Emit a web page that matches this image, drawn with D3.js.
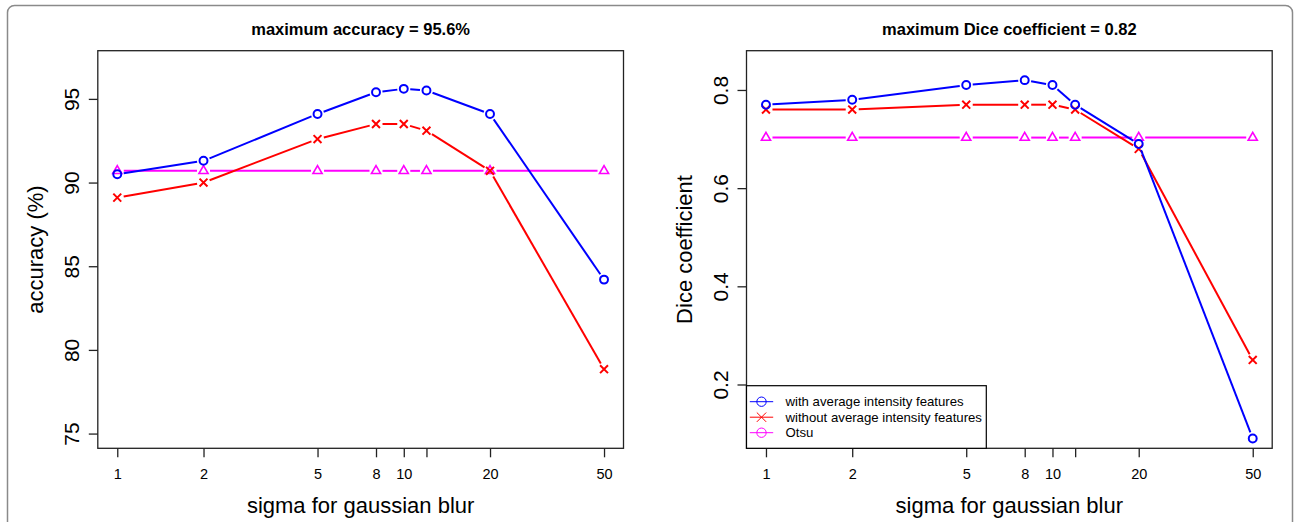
<!DOCTYPE html>
<html>
<head>
<meta charset="utf-8">
<script src="https://cdn.jsdelivr.net/npm/d3@7"></script>
<style>
  html, body { margin: 0; padding: 0; background: #fff; }
  svg { display: block; font-family: "Liberation Sans", Arial, Helvetica, sans-serif; }
</style>
</head>
<body>
<div id="chart"></div>
<script>
// sigma values (x axis, log scale)
const sigma = [1, 2, 5, 8, 10, 12, 20, 50];
const xTickLabels = ["1", "2", "5", "8", "10", "", "20", "50"];

// left panel: accuracy (%)
const accWith = [90.5, 91.3, 94.1, 95.4, 95.6, 95.5, 94.1, 84.2];
const accWithout = [89.1, 90.0, 92.6, 93.5, 93.5, 93.1, 90.7, 78.85];
const accOtsu = [90.7, 90.7, 90.7, 90.7, 90.7, 90.7, 90.7, 90.7];
const accTicks = [75, 80, 85, 90, 95];

// right panel: Dice coefficient
const diceWith = [0.77, 0.78, 0.81, 0.82, 0.81, 0.77, 0.69, 0.09];
const diceWithout = [0.76, 0.76, 0.77, 0.77, 0.77, 0.76, 0.68, 0.25];
const diceOtsu = [0.703, 0.703, 0.703, 0.703, 0.703, 0.703, 0.703, 0.703];
const diceTicks = [0.2, 0.4, 0.6, 0.8];

const legendLabels = ["with average intensity features", "without average intensity features", "Otsu"];

const W = 1294, H = 522;
const blue = "#0000ff", red = "#ff0000", magenta = "#ff00ff";

let svg = d3.select("#chart").append("svg")
	.attr("width", W)
	.attr("height", H);

// outer rounded frame
svg.append("rect")
	.attr("x", 7.5).attr("y", 5.5)
	.attr("width", 1285).attr("height", 600)
	.attr("rx", 7)
	.attr("fill", "none")
	.attr("stroke", "#8a8a8a")
	.attr("stroke-width", 1.5);

function panel(opt) {
	let top = 50.7, bottom = 448.3;
	let left = opt.left, right = opt.left + 525.7;
	let lx0 = Math.log10(sigma[0]), lx1 = Math.log10(sigma[sigma.length - 1]);
	let px = 0.04 * (lx1 - lx0);
	let x = d3.scaleLog([10 ** (lx0 - px), 10 ** (lx1 + px)], [left, right]);
	let py = 0.04 * (opt.ylim[1] - opt.ylim[0]);
	let y = d3.scaleLinear([opt.ylim[0] - py, opt.ylim[1] + py], [bottom, top]);

	let g = svg.append("g");

	// series, R type="b": segments broken around the points
	let gap = 6.5;
	opt.series.forEach(s => {
		let pts = sigma.map((v, i) => [x(v), y(s.values[i])]);
		let segs = [];
		for (let i = 0; i < pts.length - 1; i++) {
			let [x0, y0] = pts[i], [x1, y1] = pts[i + 1];
			let len = Math.hypot(x1 - x0, y1 - y0);
			if (len <= 2 * gap) continue;
			let ux = (x1 - x0) / len, uy = (y1 - y0) / len;
			segs.push([x0 + ux * gap, y0 + uy * gap, x1 - ux * gap, y1 - uy * gap]);
		}
		g.append("g")
			.attr("stroke", s.color)
			.attr("stroke-width", 2)
			.selectAll("line")
			.data(segs)
			.join("line")
			.attr("x1", d => d[0]).attr("y1", d => d[1])
			.attr("x2", d => d[2]).attr("y2", d => d[3]);
		let mk = g.append("g")
			.attr("stroke", s.color)
			.attr("fill", "none")
			.attr("stroke-width", s.shape === "tri" ? 1.6 : 2)
			.selectAll("g")
			.data(pts)
			.join("g")
			.attr("transform", d => `translate(${d[0]},${d[1]})`);
		drawMarker(mk, s.shape, 1.1);
	});

	// box
	g.append("rect")
		.attr("x", left).attr("y", top)
		.attr("width", right - left).attr("height", bottom - top)
		.attr("fill", "none")
		.attr("stroke", "#222")
		.attr("stroke-width", 1.3);

	// x axis
	g.append("g")
		.attr("transform", `translate(0,${bottom})`)
		.call(d3.axisBottom(x).tickValues(sigma).tickFormat((d, i) => xTickLabels[i]).tickSize(9).tickSizeOuter(0))
		.call(a => a.select(".domain").remove())
		.call(a => a.selectAll("line").attr("stroke", "#222").attr("stroke-width", 1.3))
		.call(a => a.selectAll("text")
			.attr("y", 31).attr("dy", 0)
			.attr("fill", "#000")
			.style("font-size", "14.5px")
			.style("font-family", "inherit"));

	// y axis
	g.append("g")
		.attr("transform", `translate(${left},0)`)
		.call(d3.axisLeft(y).tickValues(opt.yticks).tickFormat(opt.yfmt).tickSize(9).tickSizeOuter(0))
		.call(a => a.select(".domain").remove())
		.call(a => a.selectAll("line").attr("stroke", "#222").attr("stroke-width", 1.3))
		.call(a => a.selectAll("text")
			.attr("transform", "rotate(-90)")
			.attr("x", 0).attr("y", -19).attr("dy", 0)
			.attr("text-anchor", "middle")
			.attr("fill", "#000")
			.style("font-size", "21px")
			.style("font-family", "inherit"));

	// titles
	let cx = (left + right) / 2;
	g.append("text")
		.attr("x", cx).attr("y", 35)
		.attr("text-anchor", "middle")
		.attr("font-weight", "bold")
		.attr("font-size", 16.5)
		.text(opt.title);
	g.append("text")
		.attr("x", cx).attr("y", 513)
		.attr("text-anchor", "middle")
		.attr("font-size", 22)
		.text("sigma for gaussian blur");
	g.append("text")
		.attr("transform", `translate(${left - 55},${(top + bottom) / 2}) rotate(-90)`)
		.attr("text-anchor", "middle")
		.attr("font-size", 22)
		.text(opt.ylab);

	return {g, left, bottom};
}

function drawMarker(sel, shape, scale) {
	let k = scale;
	if (shape === "circle") {
		sel.append("circle").attr("r", 3.6 * k);
	} else if (shape === "cross") {
		sel.append("path").attr("d", `M${-3.6 * k},${-3.6 * k}L${3.6 * k},${3.6 * k}M${-3.6 * k},${3.6 * k}L${3.6 * k},${-3.6 * k}`);
	} else {
		sel.append("path").attr("d", d3.symbol(d3.symbolTriangle, 30 * k * k)());
	}
}

panel({
	left: 97.8,
	ylim: [75, 97],
	yticks: accTicks,
	yfmt: d3.format("d"),
	title: "maximum accuracy = 95.6%",
	ylab: "accuracy (%)",
	series: [
		{values: accOtsu, color: magenta, shape: "tri"},
		{values: accWithout, color: red, shape: "cross"},
		{values: accWith, color: blue, shape: "circle"}
	]
});

let p2 = panel({
	left: 746.5,
	ylim: [0.1, 0.85],
	yticks: diceTicks,
	yfmt: d3.format(".1f"),
	title: "maximum Dice coefficient = 0.82",
	ylab: "Dice coefficient",
	series: [
		{values: diceOtsu, color: magenta, shape: "tri"},
		{values: diceWithout, color: red, shape: "cross"},
		{values: diceWith, color: blue, shape: "circle"}
	]
});

// legend, bottom left of the Dice panel
let leg = p2.g.append("g");
let legColors = [blue, red, magenta];
let legShapes = ["circle", "cross", "circle"];
leg.append("rect")
	.attr("x", p2.left).attr("y", 385.7)
	.attr("width", 239.8).attr("height", p2.bottom - 385.7)
	.attr("fill", "#fff")
	.attr("stroke", "#000")
	.attr("stroke-width", 1.2);
let item = leg.selectAll("g.item")
	.data(legendLabels)
	.join("g")
	.attr("class", "item")
	.attr("transform", (d, i) => `translate(${p2.left},${401.7 + i * 15.5})`);
item.append("line")
	.attr("x1", 3.3).attr("x2", 26.7)
	.attr("stroke", (d, i) => legColors[i])
	.attr("stroke-width", 1);
item.each(function(d, i) {
	let m = d3.select(this).append("g")
		.attr("transform", "translate(15,0)")
		.attr("fill", "none")
		.attr("stroke", legColors[i])
		.attr("stroke-width", 1);
	drawMarker(m, legShapes[i], 1.3);
});
item.append("text")
	.attr("x", 39)
	.attr("dy", "0.35em")
	.attr("font-size", 13.2)
	.text(d => d);
</script>
</body>
</html>
